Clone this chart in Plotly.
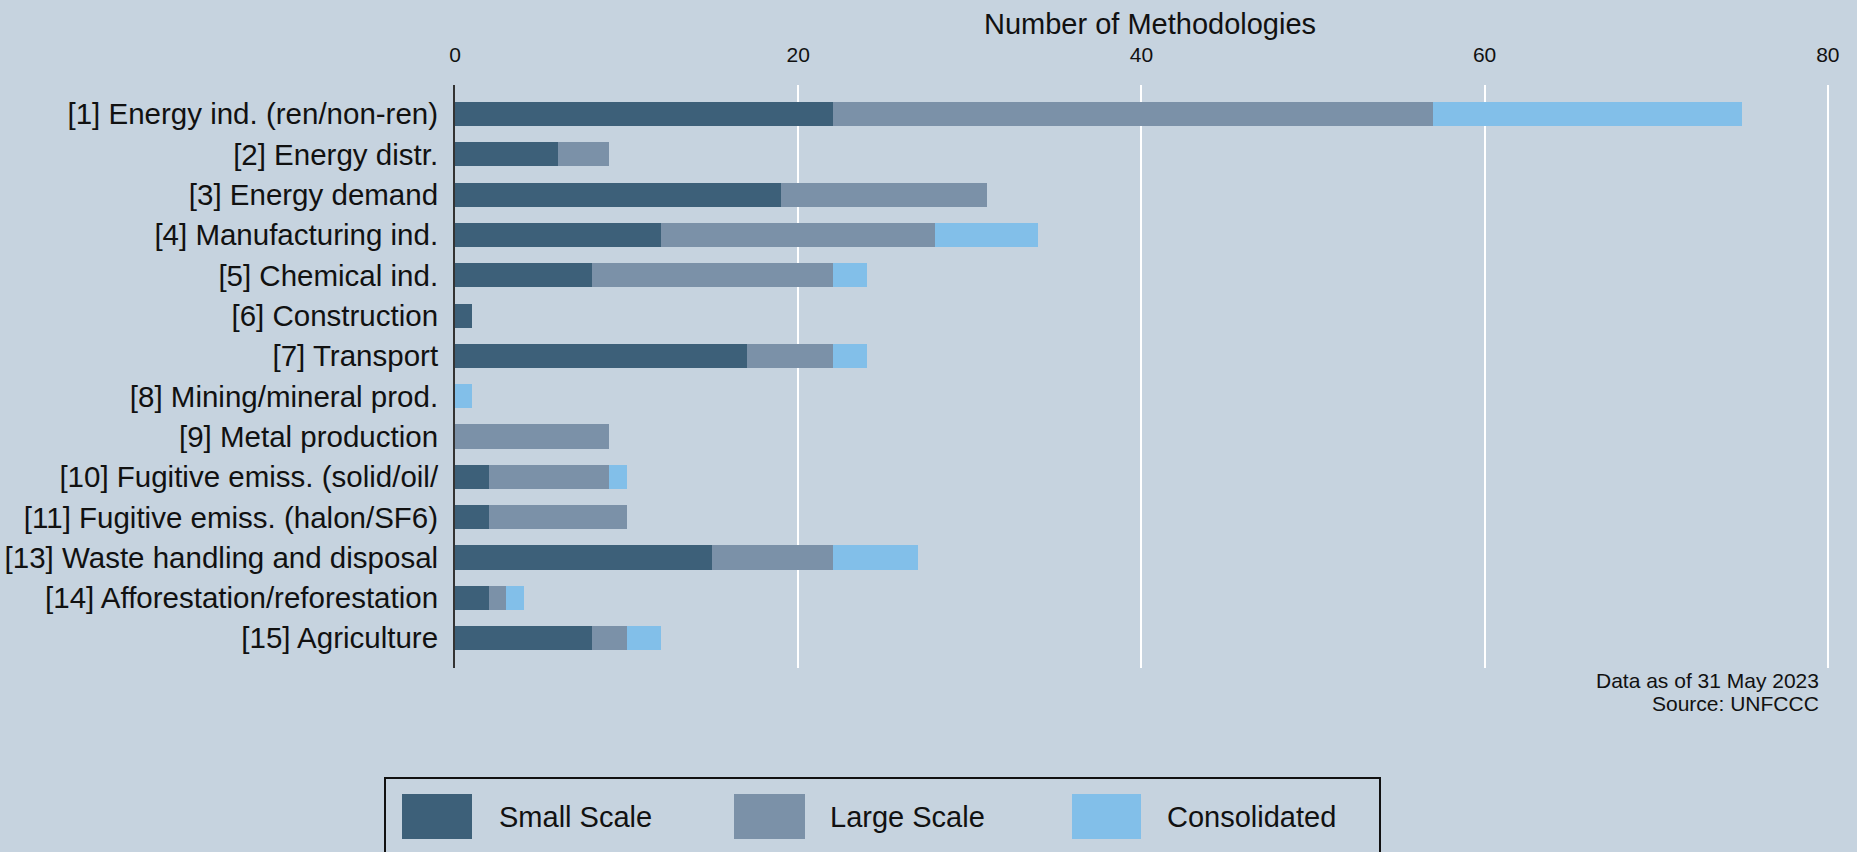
import plotly.graph_objects as go

categories = [
    "[1] Energy ind. (ren/non-ren)",
    "[2] Energy distr.",
    "[3] Energy demand",
    "[4] Manufacturing ind.",
    "[5] Chemical ind.",
    "[6] Construction",
    "[7] Transport",
    "[8] Mining/mineral prod.",
    "[9] Metal production",
    "[10] Fugitive emiss. (solid/oil/",
    "[11] Fugitive emiss. (halon/SF6)",
    "[13] Waste handling and disposal",
    "[14] Afforestation/reforestation",
    "[15] Agriculture",
]
small_scale = [22, 6, 19, 12, 8, 1, 17, 0, 0, 2, 2, 15, 2, 8]
large_scale = [35, 3, 12, 16, 14, 0, 5, 0, 9, 7, 8, 7, 1, 2]
consolidated = [18, 0, 0, 6, 2, 0, 2, 1, 0, 1, 0, 5, 1, 2]
series_names = ["Small Scale", "Large Scale", "Consolidated"]
x_ticks = [0, 20, 40, 60, 80]

BG = "#C6D3DF"
COLORS = ["#3D6079", "#7B91A8", "#82BFE9"]
FONT = "Liberation Sans, Arial, sans-serif"

W, H = 1857, 852
L, R, T, B = 455, 17, 85, 184
PW, PH = W - L - R, H - T - B


def px_x(px):
    return (px - L) / PW


def px_y(py):
    return (H - B - py) / PH


fig = go.Figure()
for name, vals, col in zip(series_names, [small_scale, large_scale, consolidated], COLORS):
    fig.add_trace(go.Bar(
        y=categories, x=vals, name=name, orientation="h",
        marker=dict(color=col, line=dict(width=0)),
        showlegend=False,
    ))

# manual legend (large keys as in the reference)
shapes = [dict(type="rect", xref="paper", yref="paper",
               x0=px_x(385), x1=px_x(1380), y0=px_y(900), y1=px_y(778),
               line=dict(color="#111111", width=2), fillcolor="rgba(0,0,0,0)", layer="above")]
key_x = [(402, 472, 497), (734, 805, 828), (1072, 1141, 1165)]
annotations = []
for (x0, x1, tx), name, col in zip(key_x, series_names, COLORS):
    shapes.append(dict(type="rect", xref="paper", yref="paper",
                       x0=px_x(x0), x1=px_x(x1), y0=px_y(839), y1=px_y(794),
                       line=dict(width=0), fillcolor=col, layer="above"))
    annotations.append(dict(xref="paper", yref="paper", x=px_x(tx), y=px_y(817),
                            xanchor="left", yanchor="middle", showarrow=False,
                            text=name, font=dict(size=29, color="#111111", family=FONT)))

annotations.append(dict(xref="paper", yref="paper", x=px_x(1821), y=px_y(680),
                        xanchor="right", yanchor="middle", showarrow=False,
                        text="Data as of 31 May 2023", font=dict(size=21, color="#111111", family=FONT)))
annotations.append(dict(xref="paper", yref="paper", x=px_x(1821), y=px_y(703),
                        xanchor="right", yanchor="middle", showarrow=False,
                        text="Source: UNFCCC", font=dict(size=21, color="#111111", family=FONT)))
annotations.append(dict(xref="paper", yref="paper", x=px_x(1150), y=px_y(24),
                        xanchor="center", yanchor="middle", showarrow=False,
                        text="Number of Methodologies", font=dict(size=29, color="#111111", family=FONT)))

fig.update_layout(
    width=W, height=H,
    margin=dict(l=L, r=R, t=T, b=B, pad=0, autoexpand=False),
    paper_bgcolor=BG, plot_bgcolor=BG,
    barmode="stack", bargap=0.4,
    font=dict(family=FONT, color="#111111"),
    shapes=shapes, annotations=annotations,
    xaxis=dict(side="top", range=[0, PW / 17.16], tickvals=x_ticks, automargin=False,
               showgrid=True, gridcolor="white", gridwidth=2, zeroline=False,
               showline=False, ticks="", ticklabelstandoff=18,
               tickfont=dict(size=21, color="#111111", family=FONT)),
    yaxis=dict(categoryorder="array", categoryarray=categories, automargin=False,
               range=[13.74, -0.72], showgrid=False, zeroline=False,
               showline=True, linecolor="#333333", linewidth=2,
               ticks="", ticklabelstandoff=9,
               tickfont=dict(size=29.5, color="#111111", family=FONT)),
)

fig.write_html("out.html", config={"displayModeBar": False},
               post_script="document.body.style.margin='0';")
